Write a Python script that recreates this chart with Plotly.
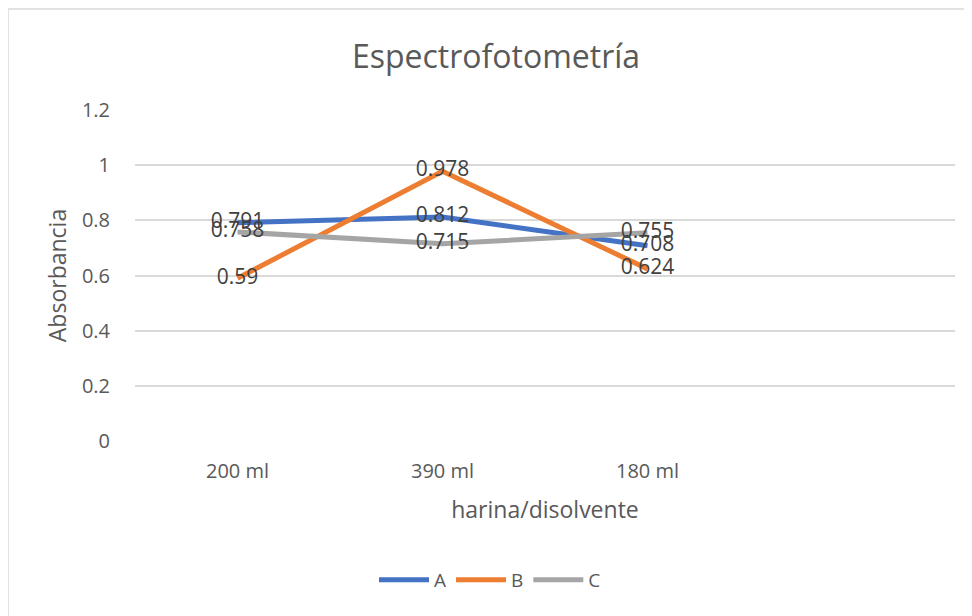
import plotly.graph_objects as go

categories = ["200 ml", "390 ml", "180 ml"]
series_names = ["A", "B", "C"]
values_a = [0.791, 0.812, 0.708]
values_b = [0.59, 0.978, 0.624]
values_c = [0.758, 0.715, 0.755]
y_ticks = [0, 0.2, 0.4, 0.6, 0.8, 1, 1.2]
y_tick_labels = ["0", "0.2", "0.4", "0.6", "0.8", "1", "1.2"]

colors = ["#4472C4", "#ED7D31", "#A5A5A5"]
FONT = "Open Sans"
TXT = "#595959"

x_idx = list(range(len(categories)))
all_vals = [values_a, values_b, values_c]

fig = go.Figure()
for name, vals, col in zip(series_names, all_vals, colors):
    fig.add_trace(go.Scatter(
        x=x_idx, y=vals, mode="lines", name=name,
        line=dict(color=col, width=5),
    ))
for name, vals in zip(series_names, all_vals):
    fig.add_trace(go.Scatter(
        x=x_idx, y=vals, mode="text", showlegend=False,
        text=[f"{v:g}" for v in vals], textposition="middle center",
        textfont=dict(family=FONT, size=21, color="#404040"),
        hoverinfo="skip",
    ))

# page has an 8px body margin; figure coordinates are offset accordingly
OFF = 8
W, H = 964, 608
L, T = 135 - OFF, 110 - OFF
R = W - (955 - OFF)
B = H - (441 - OFF)
pw, ph = W - L - R, H - T - B

def px_x(p):
    return (p - OFF - L) / pw

def px_y(p):
    return (H - B - (p - OFF)) / ph

fig.add_shape(type="rect", xref="paper", yref="paper",
              x0=px_x(8), x1=px_x(990), y0=px_y(640), y1=px_y(9),
              line=dict(color="#D9D9D9", width=1.5), layer="below")

fig.update_layout(
    width=W, height=H,
    margin=dict(l=L, r=R, t=T, b=B),
    paper_bgcolor="white", plot_bgcolor="white",
    font=dict(family=FONT, color=TXT),
    title=dict(text="Espectrofotometría", x=(496 - OFF) / W, xanchor="center",
               y=1 - (57 - OFF) / H, yanchor="middle",
               font=dict(family=FONT, size=32, color=TXT)),
    showlegend=True,
    legend=dict(orientation="h", x=px_x(490), xanchor="center",
                y=px_y(580), yanchor="middle",
                font=dict(family=FONT, size=19, color=TXT),
                itemwidth=50, tracegroupgap=0),
    xaxis=dict(range=[-0.5, 3.5], tickmode="array", tickvals=x_idx,
               ticktext=categories, showgrid=False, zeroline=False,
               showline=False, ticks="",
               tickfont=dict(family=FONT, size=20, color=TXT),
               ticklabelstandoff=16,
               title=dict(text="harina/disolvente", standoff=18,
                          font=dict(family=FONT, size=23, color=TXT))),
    yaxis=dict(range=[0, 1.2], tickmode="array", tickvals=y_ticks,
               ticktext=y_tick_labels, showgrid=True, gridcolor="#D9D9D9",
               gridwidth=1.5, zeroline=False, showline=False, ticks="",
               tickfont=dict(family=FONT, size=20, color=TXT),
               ticklabelstandoff=24,
               title=dict(text="Absorbancia", standoff=8,
                          font=dict(family=FONT, size=23, color=TXT))),
)

fig.write_html("out.html")
